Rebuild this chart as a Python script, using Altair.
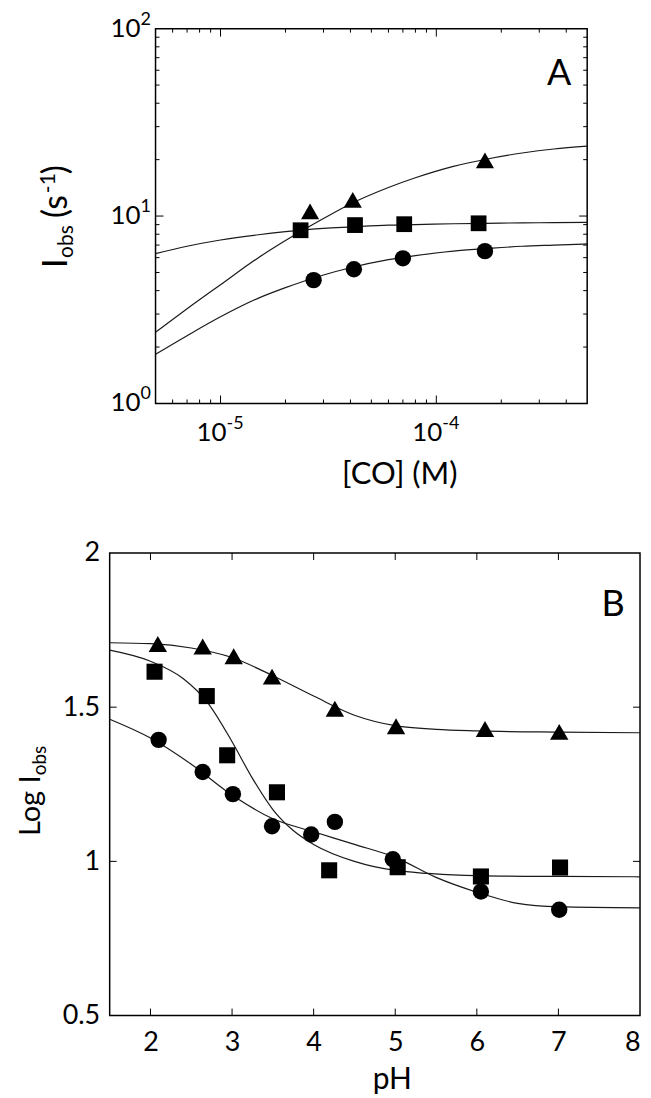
import altair as alt
import pandas as pd

FONT = "Lato"

# ---------------- Panel A : I_obs vs [CO] (log-log) ----------------
a_tri_x = [2.6e-5, 4.1e-5, 1.68e-4]
a_tri_y = [10.6, 12.2, 19.8]
a_sq_x = [2.35e-5, 4.2e-5, 7.1e-5, 1.57e-4]
a_sq_y = [8.4, 8.95, 9.05, 9.15]
a_ci_x = [2.7e-5, 4.15e-5, 7.0e-5, 1.68e-4]
a_ci_y = [4.55, 5.2, 5.95, 6.5]

a_fit_x = [5e-6, 7e-6, 1e-5, 1.5e-5, 2e-5, 3e-5, 4e-5, 6e-5, 8e-5, 1.2e-4, 1.7e-4, 2.5e-4, 3.5e-4, 5e-4]
a_fit_tri = [2.4, 3.2, 4.3, 6.0, 7.4, 9.7, 11.6, 14.2, 16.0, 18.4, 20.1, 21.7, 22.8, 23.6]
a_fit_sq = [6.3, 6.9, 7.45, 7.95, 8.25, 8.6, 8.75, 8.95, 9.0, 9.1, 9.15, 9.2, 9.22, 9.25]
a_fit_ci = [1.83, 2.3, 2.9, 3.65, 4.15, 4.85, 5.3, 5.85, 6.15, 6.5, 6.7, 6.9, 7.0, 7.1]

a_xdomain = [5e-6, 5e-4]
a_ydomain = [1, 100]
a_xticks = [1e-5, 1e-4]
a_xexp = ["-5", "-4"]
a_yticks = [1, 10, 100]
a_yexp = ["0", "1", "2"]
a_minor_x = [6e-6, 7e-6, 8e-6, 9e-6, 2e-5, 3e-5, 4e-5, 5e-5, 6e-5, 7e-5, 8e-5, 9e-5, 2e-4, 3e-4, 4e-4]
a_minor_y = [2, 3, 4, 5, 6, 7, 8, 9, 20, 30, 40, 50, 60, 70, 80, 90]
a_xtitle = "[CO] (M)"

# ---------------- Panel B : log I_obs vs pH ----------------
b_tri_x = [2.09, 2.64, 3.02, 3.49, 4.26, 5.01, 6.10, 7.01]
b_tri_y = [1.705, 1.697, 1.665, 1.599, 1.495, 1.438, 1.429, 1.420]
b_sq_x = [2.05, 2.69, 2.94, 3.55, 4.19, 5.03, 6.05, 7.02]
b_sq_y = [1.615, 1.536, 1.344, 1.224, 0.971, 0.981, 0.951, 0.980]
b_ci_x = [2.10, 2.64, 3.01, 3.49, 3.97, 4.26, 4.97, 6.05, 7.01]
b_ci_y = [1.394, 1.290, 1.218, 1.114, 1.087, 1.128, 1.007, 0.902, 0.843]

b_fit_tri_x = [1.5, 2, 2.5, 3, 3.5, 4, 4.5, 5, 5.5, 6, 7, 8]
b_fit_tri_y = [1.709, 1.706, 1.692, 1.661, 1.602, 1.536, 1.474, 1.440, 1.428, 1.423, 1.419, 1.417]
b_fit_sq_x = [1.5, 2, 2.4, 2.7, 3.0, 3.25, 3.5, 3.75, 4.0, 4.5, 5, 6, 7, 8]
b_fit_sq_y = [1.685, 1.649, 1.593, 1.515, 1.388, 1.269, 1.168, 1.100, 1.055, 1.000, 0.971, 0.954, 0.951, 0.950]
b_fit_ci_x = [1.5, 2, 2.5, 3, 3.5, 4, 4.5, 5, 5.5, 6, 6.5, 7, 8]
b_fit_ci_y = [1.461, 1.400, 1.315, 1.215, 1.138, 1.096, 1.055, 1.013, 0.948, 0.900, 0.864, 0.853, 0.849]

b_xdomain = [1.5, 8]
b_ydomain = [0.5, 2]
b_xticks = [2, 3, 4, 5, 6, 7, 8]
b_yticks = [0.5, 1, 1.5, 2]
b_xtitle = "pH"

# ---------------- layout constants ----------------
# Panel A's unit starts where panel B's frame starts; its frame is inset by A_INSET.
A_INSET = 46
AW, AH = 479, 376
BW, BH = 532, 464
LINE = "#1a1a1a"


def fit(xs, ys, X, Y):
    df = pd.DataFrame({"x": xs, "y": ys})
    return alt.Chart(df).mark_line(color=LINE, strokeWidth=1.2, interpolate="monotone").encode(
        x=X("x"), y=Y("y"))


def pts(xs, ys, shape, size, X, Y):
    df = pd.DataFrame({"x": xs, "y": ys})
    return alt.Chart(df).mark_point(shape=shape, filled=True, size=size, color="black",
                                    opacity=1, strokeWidth=0).encode(x=X("x"), y=Y("y"))


def xticks(vals, X, length, H):
    df = pd.DataFrame({"v": vals})
    base = alt.Chart(df).mark_rule(color="black", strokeWidth=1)
    return [
        base.encode(x=X("v"), y=alt.value(H - length), y2=alt.value(H)),
        base.encode(x=X("v"), y=alt.value(0), y2=alt.value(length)),
    ]


def yticks(vals, Y, length, x0, x1):
    df = pd.DataFrame({"v": vals})
    base = alt.Chart(df).mark_rule(color="black", strokeWidth=1)
    return [
        base.encode(y=Y("v"), x=alt.value(x0), x2=alt.value(x0 + length)),
        base.encode(y=Y("v"), x=alt.value(x1 - length), x2=alt.value(x1)),
    ]


def frame(x0, x1, H):
    df = pd.DataFrame({"k": [0]})
    return alt.Chart(df).mark_rect(fillOpacity=0, stroke="black", strokeWidth=1.5).encode(
        x=alt.value(x0), x2=alt.value(x1), y=alt.value(0), y2=alt.value(H))


def txt(s, x, y, size, angle=0, align="center", baseline="middle", color="black"):
    df = pd.DataFrame({"t": [s]})
    kw = dict(font=FONT, fontSize=size, align=align, baseline=baseline, color=color)
    if angle:
        kw["angle"] = angle
    return alt.Chart(df).mark_text(**kw).encode(text="t:N", x=alt.value(x), y=alt.value(y))


# ---------------- Panel A ----------------
axs = alt.Scale(type="log", domain=a_xdomain, nice=False, range=[A_INSET, AW])
ays = alt.Scale(type="log", domain=a_ydomain, nice=False)


def AX(f):
    return alt.X(f"{f}:Q", scale=axs, axis=None)


def AY(f):
    return alt.Y(f"{f}:Q", scale=ays, axis=None)


LBL = 26   # base size of "10"
SUP = 18   # exponent size

# y tick labels 10^n (base + raised exponent), placed through the y scale
ylab = pd.DataFrame({"v": a_yticks, "b": ["10"] * len(a_yticks), "e": a_yexp})
ylab_base = alt.Chart(ylab).mark_text(font=FONT, fontSize=LBL, align="right", baseline="middle",
                                      color="black").encode(
    y=AY("v"), x=alt.value(A_INSET - 15), text="b:N")
ylab_exp = alt.Chart(ylab).mark_text(font=FONT, fontSize=SUP, align="left", baseline="middle",
                                     color="black", dy=-9).encode(
    y=AY("v"), x=alt.value(A_INSET - 15), text="e:N")

# x tick labels 10^-n
xlab = pd.DataFrame({"v": a_xticks, "b": ["10"] * len(a_xticks), "e": a_xexp})
xlab_base = alt.Chart(xlab).mark_text(font=FONT, fontSize=LBL, align="right", baseline="middle",
                                      color="black", dx=6).encode(
    x=AX("v"), y=alt.value(AH + 30), text="b:N")
xlab_exp = alt.Chart(xlab).mark_text(font=FONT, fontSize=SUP, align="left", baseline="middle",
                                     color="black", dx=6, dy=-9).encode(
    x=AX("v"), y=alt.value(AH + 30), text="e:N")

a_layers = [
    frame(A_INSET, AW, AH),
    fit(a_fit_x, a_fit_tri, AX, AY),
    fit(a_fit_x, a_fit_sq, AX, AY),
    fit(a_fit_x, a_fit_ci, AX, AY),
    pts(a_tri_x, a_tri_y, "triangle-up", 330, AX, AY),
    pts(a_sq_x, a_sq_y, "square", 250, AX, AY),
    pts(a_ci_x, a_ci_y, "circle", 270, AX, AY),
]
a_layers += xticks(a_xticks, AX, 8, AH) + xticks(a_minor_x, AX, 4, AH)
a_layers += yticks([10], AY, 8, A_INSET, AW) + yticks(a_minor_y, AY, 4, A_INSET, AW)
a_layers += [ylab_base, ylab_exp, xlab_base, xlab_exp]

# y title:  I_obs (s^-1), written bottom-to-top
Y0 = 240
TX = A_INSET - 89
a_layers += [
    txt("A", A_INSET + 405, 46, 36),
    txt(a_xtitle, A_INSET + 245, AH + 72, 31),
    txt("I", TX, Y0, 34, angle=270, align="left", baseline="alphabetic"),
    txt("obs", TX + 6, Y0 - 10, 21, angle=270, align="left", baseline="alphabetic"),
    txt("(s", TX, Y0 - 50, 34, angle=270, align="left", baseline="alphabetic"),
    txt("-1", TX - 12, Y0 - 75, 21, angle=270, align="left", baseline="alphabetic"),
    txt(")", TX, Y0 - 94, 34, angle=270, align="left", baseline="alphabetic"),
]
chartA = alt.layer(*a_layers).properties(width=AW, height=AH)

# ---------------- Panel B ----------------
bxs = alt.Scale(domain=b_xdomain, nice=False, zero=False)
bys = alt.Scale(domain=b_ydomain, nice=False, zero=False)

b_xaxis = alt.Axis(values=b_xticks, format="d", title=b_xtitle,
                   labelFontSize=27, labelPadding=14, labelFont=FONT, labelColor="black",
                   labelFlush=True,
                   ticks=False, tickSize=0, domain=False, grid=False,
                   titleFont=FONT, titleFontSize=30, titleFontWeight="normal", titleColor="black",
                   titleX=283, titleY=64, titleAlign="center", titleBaseline="middle")
b_yaxis = alt.Axis(values=b_yticks, format="~g", title=None,
                   labelFontSize=27, labelPadding=10, labelFont=FONT, labelColor="black",
                   ticks=False, tickSize=0, domain=False, grid=False)


def BX(f):
    return alt.X(f"{f}:Q", scale=bxs, axis=b_xaxis)


def BY(f):
    return alt.Y(f"{f}:Q", scale=bys, axis=b_yaxis)


b_layers = [
    frame(0, BW, BH),
    fit(b_fit_tri_x, b_fit_tri_y, BX, BY),
    fit(b_fit_sq_x, b_fit_sq_y, BX, BY),
    fit(b_fit_ci_x, b_fit_ci_y, BX, BY),
    pts(b_tri_x, b_tri_y, "triangle-up", 340, BX, BY),
    pts(b_sq_x, b_sq_y, "square", 260, BX, BY),
    pts(b_ci_x, b_ci_y, "circle", 270, BX, BY),
]
b_layers += xticks([2, 3, 4, 5, 6, 7], BX, 7, BH)
b_layers += yticks([1, 1.5], BY, 7, 0, BW)
b_layers += [
    txt("B", 505, 52, 36),
    txt("Log I", -70, 284, 29, angle=270, align="left", baseline="alphabetic"),
    txt("obs", -64, 223, 19, angle=270, align="left", baseline="alphabetic"),
    txt(".", -101, BH / 2, 10, align="left", color="white"),
]
chartB = alt.layer(*b_layers).properties(width=BW, height=BH)

chart = alt.vconcat(chartA, chartB, spacing=47).properties(
    padding={"left": 0, "top": 0, "right": 0, "bottom": 0}
).configure_view(stroke="transparent")

chart.save("out.html", embed_options={"renderer": "svg", "actions": False})
